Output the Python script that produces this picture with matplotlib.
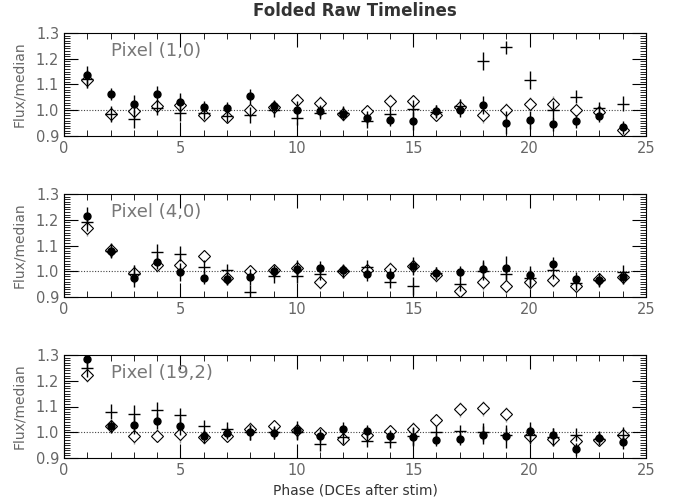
import numpy as np
import matplotlib
matplotlib.use("Agg")
import matplotlib.pyplot as plt
from matplotlib.ticker import MultipleLocator

phase = np.arange(1, 25)

# Pixel (1,0)
p1_circ = [1.135, 1.063, 1.024, 1.063, 1.032, 1.011, 1.008, 1.054, 1.016, 1.001, 0.997, 0.987,
           0.971, 0.962, 0.958, 0.997, 1.000, 1.021, 0.951, 0.964, 0.945, 0.958, 0.978, 0.934]
p1_diam = [1.116, 0.984, 0.997, 1.016, 1.021, 0.980, 0.975, 1.000, 1.011, 1.040, 1.029, 0.984,
           0.997, 1.037, 1.034, 0.982, 1.013, 0.980, 1.000, 1.026, 1.026, 1.000, 0.995, 0.923]
p1_plus = [1.120, 0.985, 0.965, 1.010, 0.990, 0.990, 0.978, 0.982, 1.000, 0.971, 0.990, 0.990,
           0.958, 0.987, 1.004, 0.995, 1.017, 1.190, 1.245, 1.116, 1.000, 1.053, 1.008, 1.026]

# Pixel (4,0)
p2_circ = [1.214, 1.079, 0.974, 1.037, 0.997, 0.975, 0.970, 0.978, 1.000, 1.009, 1.013, 1.005,
           0.989, 0.987, 1.022, 0.993, 0.996, 1.007, 1.013, 0.987, 1.029, 0.971, 0.967, 0.976]
p2_diam = [1.167, 1.082, 0.993, 1.024, 1.024, 1.059, 0.972, 1.000, 1.003, 1.012, 0.957, 1.000,
           1.004, 1.009, 1.020, 0.984, 0.924, 0.958, 0.941, 0.957, 0.967, 0.943, 0.970, 0.976]
p2_plus = [1.190, 1.080, 0.990, 1.076, 1.068, 1.017, 1.004, 0.918, 0.980, 0.983, 0.990, 1.000,
           1.017, 0.959, 0.943, 0.993, 0.950, 1.000, 0.990, 0.975, 1.004, 0.954, 0.965, 0.996]

# Pixel (19,2)
p3_circ = [1.284, 1.024, 1.028, 1.043, 1.026, 0.984, 0.997, 1.000, 0.997, 1.007, 0.987, 1.014,
           1.004, 0.984, 0.980, 0.971, 0.974, 0.988, 0.984, 1.004, 0.991, 0.934, 0.978, 0.961]
p3_diam = [1.224, 1.024, 0.984, 0.987, 0.995, 0.980, 0.987, 1.014, 1.024, 1.008, 0.997, 0.975,
           0.988, 1.004, 1.014, 1.046, 1.089, 1.093, 1.070, 0.984, 0.975, 0.967, 0.971, 0.988]
p3_plus = [1.250, 1.080, 1.072, 1.086, 1.066, 1.024, 1.014, 1.000, 1.000, 1.000, 0.954, 0.980,
           0.967, 0.964, 0.985, 1.001, 1.004, 1.000, 0.990, 0.990, 0.980, 0.990, 0.975, 0.990]

# rough error bar sizes
err_circ = [0.035, 0.025, 0.035, 0.03, 0.035, 0.025, 0.025, 0.03, 0.025, 0.035, 0.025, 0.025,
            0.025, 0.025, 0.035, 0.025, 0.025, 0.035, 0.045, 0.035, 0.025, 0.025, 0.025, 0.025]
err_diam = [0.03, 0.025, 0.03, 0.025, 0.035, 0.025, 0.025, 0.025, 0.025, 0.025, 0.025, 0.025,
            0.025, 0.025, 0.025, 0.025, 0.03, 0.03, 0.03, 0.025, 0.03, 0.025, 0.025, 0.025]
err_plus = [0.035, 0.03, 0.035, 0.03, 0.03, 0.025, 0.025, 0.03, 0.025, 0.03, 0.025, 0.025,
            0.025, 0.025, 0.035, 0.025, 0.025, 0.035, 0.025, 0.035, 0.035, 0.025, 0.025, 0.03]

labels = ["Pixel (1,0)", "Pixel (4,0)", "Pixel (19,2)"]
panels = [(p1_circ, p1_diam, p1_plus), (p2_circ, p2_diam, p2_plus), (p3_circ, p3_diam, p3_plus)]
tops = [33, 194, 355]

fig = plt.figure(figsize=(6.76, 5.04), dpi=100)
txtc = "#666666"

for k in range(3):
    top = tops[k]
    ax = fig.add_axes([64 / 676, 1 - (top + 103) / 504, 582 / 676, 103 / 504])
    circ, diam, plus = panels[k]
    ax.axhline(1.0, color="#444444", linestyle=(0, (1, 1.5)), linewidth=0.8, zorder=1)
    ax.errorbar(phase, diam, yerr=err_diam, fmt="D", mfc="white", mec="black", ms=6,
                mew=0.8, ecolor="0.6", elinewidth=1, capsize=0, zorder=2)
    ax.errorbar(phase, plus, yerr=err_plus, fmt="_", color="black", ms=9, mew=1,
                ecolor="black", elinewidth=1, capsize=0, zorder=3)
    ax.errorbar(phase, circ, yerr=err_circ, fmt="o", color="black", ms=5,
                ecolor="black", elinewidth=1, capsize=0, zorder=4)

    ax.set_xlim(0, 25)
    ax.set_ylim(0.9, 1.3)
    ax.xaxis.set_major_locator(MultipleLocator(5))
    ax.xaxis.set_minor_locator(MultipleLocator(1))
    ax.yaxis.set_major_locator(MultipleLocator(0.1))
    ax.yaxis.set_minor_locator(MultipleLocator(0.01))
    ax.tick_params(which="both", direction="in", top=True, right=True, colors="black",
                   labelcolor=txtc, labelsize=10.5)
    ax.tick_params(which="major", length=10, width=0.8)
    ax.tick_params(which="minor", length=4, width=0.6)
    ax.yaxis.set_major_formatter(plt.FuncFormatter(lambda v, p: "%.1f" % v))
    for s in ax.spines.values():
        s.set_linewidth(0.8)
    ax.set_ylabel("Flux/median", color=txtc, fontsize=10, labelpad=7)
    ax.text(2.0, 1.21, labels[k], fontsize=13, color="#777777")
    if k == 0:
        ax.set_title("Folded Raw Timelines", fontsize=12, fontweight="bold", color="#333333", pad=12)
    if k == 2:
        ax.set_xlabel("Phase (DCEs after stim)", fontsize=10, color="#333333", labelpad=4)

fig.savefig("out.png", dpi=100)
